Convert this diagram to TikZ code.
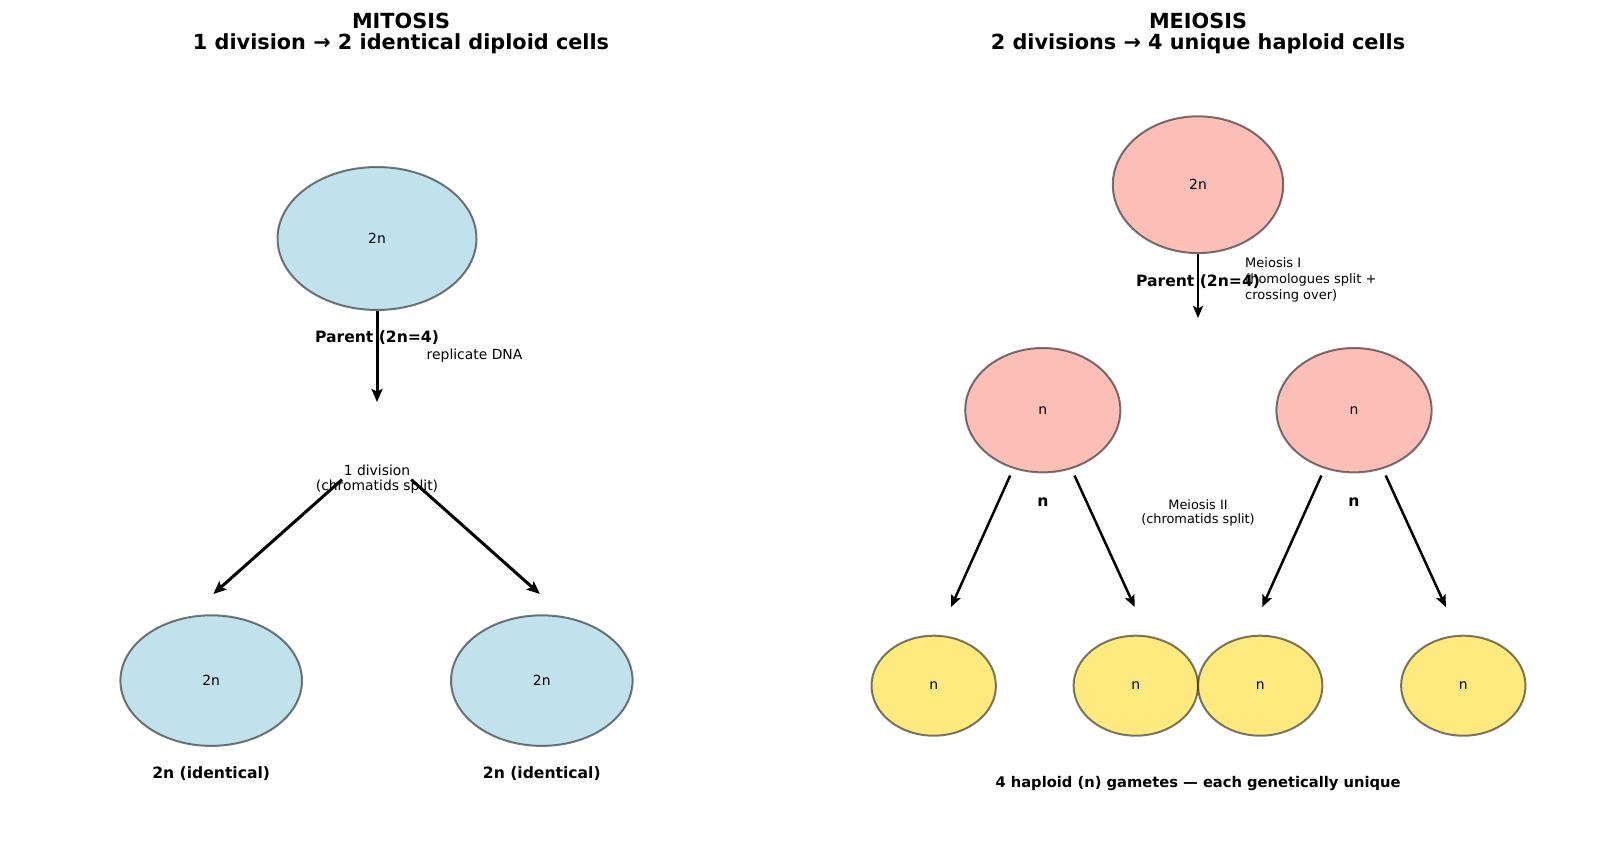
\documentclass[tikz,border=0pt]{standalone}
\usepackage{fontspec}
\setmainfont{DejaVu Sans}
\usetikzlibrary{shapes.geometric,arrows.meta}
\definecolor{cblue}{HTML}{ADD8E6}
\definecolor{csalmon}{HTML}{FA8072}
\definecolor{cgold}{HTML}{FFD700}
\tikzset{
  cell/.style={ellipse, inner sep=0pt, line width=2pt, draw=black, draw opacity=0.52, font=\fontsize{13.9}{16}\selectfont},
  bluecell/.style={cell, fill=cblue, fill opacity=0.75, text opacity=1},
  salmoncell/.style={cell, fill=csalmon, fill opacity=0.5, text opacity=1},
  goldcell/.style={cell, fill=cgold, fill opacity=0.5, text opacity=1},
  lab/.style={anchor=base, inner sep=0pt, font=\fontsize{13.9}{16}\selectfont},
  milab/.style={anchor=base west, inner sep=0pt, font=\fontsize{13}{16}\selectfont},
  divlab/.style={anchor=base, inner sep=0pt, font=\fontsize{13.9}{16}\selectfont},
  smlab/.style={anchor=base, inner sep=0pt, font=\fontsize{12.9}{15}\selectfont},
  boldlab/.style={anchor=base, inner sep=0pt, font=\fontsize{15.6}{18}\selectfont\bfseries},
  botlab/.style={anchor=base, inner sep=0pt, font=\fontsize{14.7}{18}\selectfont\bfseries},
  titlelab/.style={anchor=base, inner sep=0pt, font=\fontsize{20.8}{25}\selectfont\bfseries},
  arr/.style={line width=3pt, -{Stealth[length=13pt,width=11pt,inset=2.5pt]}},
  arrm/.style={line width=2.5pt, -{Stealth[length=12pt,width=10pt,inset=2.5pt]}}
}
\begin{document}
\begin{tikzpicture}[x=1pt,y=-1pt]
\useasboundingbox[fill=white] (0,0) rectangle (1600,849);
% titles
\node[titlelab] (t1a) at (401,28) {MITOSIS};
\node[titlelab] (t1b) at (401,49.5) {1 division → 2 identical diploid cells};
\node[titlelab] (t2a) at (1198,28) {MEIOSIS};
\node[titlelab] (t2b) at (1198,49.5) {2 divisions → 4 unique haploid cells};

% ---------- mitosis ----------
\node[bluecell, minimum width=199pt, minimum height=143pt] (mp) at (377,238.5) {2n};
\node[boldlab] (mpl) at (377,342) {Parent (2n=4)};
\node[lab, anchor=base west] (rep) at (426.5,359) {replicate DNA};
\coordinate (mpend) at (377,402);
\draw[arr] (mp.south) -- (mpend);
\node[divlab] (div1) at (377,475) {1 division};
\node[divlab] (div2) at (377,490) {(chromatids split)};
\coordinate (dl0) at (342,479.6);
\coordinate (dr0) at (411.2,479.6);
\coordinate (dl1) at (213.3,594);
\coordinate (dr1) at (539.8,594);
\draw[arr] (dl0) -- (dl1);
\draw[arr] (dr0) -- (dr1);
\node[bluecell, minimum width=181.6pt, minimum height=130.6pt] (md1) at (211.2,680.6) {2n};
\node[bluecell, minimum width=181.6pt, minimum height=130.6pt] (md2) at (541.8,680.6) {2n};
\node[boldlab] (md1l) at (211.2,778) {2n (identical)};
\node[boldlab] (md2l) at (541.8,778) {2n (identical)};

% ---------- meiosis ----------
\node[salmoncell, minimum width=170.4pt, minimum height=136.8pt] (ep) at (1198,184.7) {2n};
\node[boldlab] (epl) at (1198,286) {Parent (2n=4)};
\coordinate (epend) at (1198,318);
\draw[arrm] (ep.south) -- (epend);
\node[milab] (mi1) at (1245,267) {Meiosis I};
\node[milab] (mi2) at (1245,283.6) {(homologues split +};
\node[milab] (mi3) at (1245,299) {crossing over)};

\node[salmoncell, minimum width=155.2pt, minimum height=124.4pt] (e1) at (1042.8,410.2) {n};
\node[salmoncell, minimum width=155.2pt, minimum height=124.4pt] (e2) at (1354,410.2) {n};
\node[boldlab] (e1l) at (1042.8,506.5) {n};
\node[boldlab] (e2l) at (1354,506.5) {n};
\node[smlab] (mii1) at (1198,509) {Meiosis II};
\node[smlab] (mii2) at (1198,523) {(chromatids split)};

\coordinate (a1s) at (1010.2,475.5); \coordinate (a1e) at (951,607.1);
\coordinate (a2s) at (1074.5,475.5); \coordinate (a2e) at (1134.7,607.1);
\coordinate (a3s) at (1321.4,475.5); \coordinate (a3e) at (1262.2,607.1);
\coordinate (a4s) at (1385.7,475.5); \coordinate (a4e) at (1445.9,607.1);
\draw[arrm] (a1s) -- (a1e);
\draw[arrm] (a2s) -- (a2e);
\draw[arrm] (a3s) -- (a3e);
\draw[arrm] (a4s) -- (a4e);

\node[goldcell, minimum width=124.4pt, minimum height=100pt] (g1) at (933.7,685.7) {n};
\node[goldcell, minimum width=124.4pt, minimum height=100pt] (g2) at (1135.8,685.7) {n};
\node[goldcell, minimum width=124.4pt, minimum height=100pt] (g3) at (1260.2,685.7) {n};
\node[goldcell, minimum width=124.4pt, minimum height=100pt] (g4) at (1463.3,685.7) {n};
\node[botlab] (gl) at (1198,787.5) {4 haploid (n) gametes — each genetically unique};
\end{tikzpicture}
\end{document}
